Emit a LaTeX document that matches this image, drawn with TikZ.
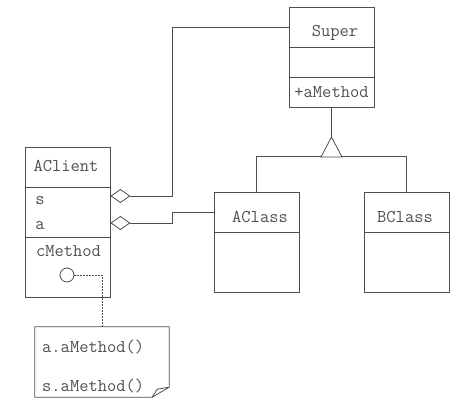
\documentclass[tikz,border=0pt]{standalone}
\usepackage{fontspec}
\usetikzlibrary{arrows.meta}
\definecolor{umlline}{HTML}{4D4D4D}
\definecolor{umltext}{HTML}{505050}
\tikzset{
    every node/.style={inner sep=0pt, font=\ttfamily\fontsize{18}{21}\selectfont, text=umltext}
}
\tikzset{
    part/.style={rectangle, draw=umlline, line width=0.8pt, minimum width=85pt},
    link/.style={draw=umlline, line width=0.8pt},
    aggr/.style={link, {Diamond[open, length=20pt, width=14pt]}-},
    notelink/.style={link, dash pattern=on 1.5pt off 1.5pt}
}

\begin{document}
\begin{tikzpicture}[x=1pt, y=-1pt]
    \useasboundingbox (0,0) rectangle (474,403);

    % Super
    \node[part, minimum height=40pt] (superN) at (331.5,27) {};
    \node[part, minimum height=30pt] (superA) at (331.5,62) {};
    \node[part, minimum height=30pt] (superM) at (331.5,92) {+aMethod};
    \node (superT) at (335,33) {Super};

    % AClass and BClass
    \node[part, minimum height=40pt] (aclassN) at (256.5,212) {};
    \node[part, minimum height=60pt] (aclassB) at (256.5,262) {};
    \node (aclassT) at (260,217) {AClass};
    \node[part, minimum height=40pt] (bclassN) at (406.5,212) {};
    \node[part, minimum height=60pt] (bclassB) at (406.5,262) {};
    \node (bclassT) at (405,217) {BClass};

    % AClient
    \node[part, minimum height=40pt] (clientN) at (67.5,167) {};
    \node[part, minimum height=50pt] (clientA) at (67.5,212) {};
    \node[part, minimum height=60pt] (clientM) at (67.5,267) {};
    \node (clientT) at (66,166) {AClient};
    \node (stxt) at (40,201) {s};
    \node (atxt) at (40,226) {a};
    \node (mtxt) at (68.5,251) {cMethod};
    \node[circle, draw=umlline, line width=0.8pt, minimum size=14pt] (circ) at (67,275) {};

    % note
    \node[minimum width=134pt, minimum height=70pt] (note) at (102,362) {};
    \node[anchor=west] (note1) at (42,347) {a.aMethod()};
    \node[anchor=west] (note2) at (42,386) {s.aMethod()};
    \draw[link] (note.north west) -- (note.north east) -- ([yshift=10pt]note.south east)
        -- ([xshift=-17pt]note.south east) -- (note.south west) -- cycle;
    \draw[link] ([xshift=-17pt]note.south east) -- ([xshift=-12pt, yshift=8pt]note.south east)
        -- ([yshift=10pt]note.south east);

    % connectors
    \draw[aggr] ([yshift=16pt]clientA.east) -- ++(62,0) |- (superN.west);
    \draw[aggr] ([yshift=-11pt]clientA.east) -- ++(62,0) |- (aclassN.west);
    \draw[notelink] (circ.east) -| (note.north);

    \coordinate (tritop) at (331.5,137);
    \draw[link] (superM.south) -- (tritop);
    \draw[link] (aclassN.north) -- ++(0,-35) -| (bclassN.north);
    \draw[link, fill=white] (tritop) -- ++(10.5,20) -- ++(-21,0) -- cycle;
\end{tikzpicture}
\end{document}
